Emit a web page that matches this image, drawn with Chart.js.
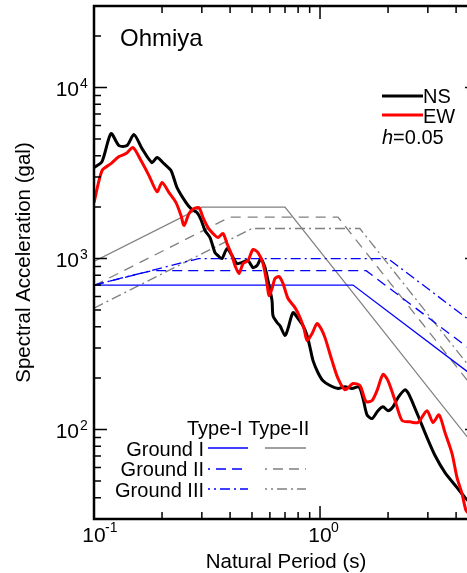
<!DOCTYPE html>
<html>
<head>
<meta charset="utf-8">
<script src="https://cdn.jsdelivr.net/npm/chart.js@4/dist/chart.umd.min.js"></script>
<style>
  body { margin: 0; background: #fff; }
  #wrap { width: 467px; height: 573px; overflow: hidden; position: relative; }
  canvas { display: block; }
</style>
</head>
<body>
<div id="wrap"><canvas id="chart" width="490" height="573"></canvas></div>
<script>
const nsPeriod = [0.100, 0.1085, 0.1189, 0.1290, 0.1400, 0.1503, 0.1631, 0.1805, 0.1900, 0.2040,
  0.2191, 0.2330, 0.2554, 0.2687, 0.2855, 0.2974, 0.3099, 0.3261, 0.3430, 0.3537,
  0.3684, 0.3877, 0.4079, 0.4292, 0.4518, 0.4801, 0.5052, 0.5262, 0.5481, 0.5709,
  0.5886, 0.6133, 0.6194, 0.6452, 0.6653, 0.7000, 0.7218, 0.7595, 0.7993, 0.8411,
  0.8761, 0.9033, 0.9312, 0.9799, 1.031, 1.107, 1.201, 1.290, 1.385, 1.488,
  1.550, 1.614, 1.699, 1.805, 1.900, 2.000, 2.104, 2.214, 2.377, 2.451,
  2.579, 2.770, 2.975, 3.227, 3.573, 4.038, 4.381, 4.610];
const nsAccel = [3405, 3690, 5383, 4580, 4580, 5310, 4398, 3641, 3896, 3593,
  3273, 2602, 2125, 1961, 1858, 1691, 1459, 1327, 1084, 1041,
  1000, 1144, 1041, 935, 948, 973, 886, 910, 1000, 886,
  743, 568, 464, 423, 405, 355, 390, 483, 446, 405,
  355, 302, 253, 215, 193, 181, 174, 178, 174, 178,
  152, 122, 116, 129, 136, 129, 136, 154, 171, 164,
  142, 113, 89.8, 70.5, 56.0, 45.8, 40.0, 37.4];

const ewPeriod = [0.100, 0.1085, 0.1189, 0.1290, 0.1385, 0.1488, 0.1614, 0.1751, 0.1900, 0.2000,
  0.2147, 0.2306, 0.2427, 0.2502, 0.2633, 0.2770, 0.2914, 0.3036, 0.3194, 0.3430,
  0.3537, 0.3721, 0.3877, 0.4079, 0.4207, 0.4382, 0.4564, 0.4801, 0.5052, 0.5316,
  0.5595, 0.5827, 0.5946, 0.6133, 0.6322, 0.6585, 0.6861, 0.7218, 0.7750, 0.8157,
  0.8495, 0.8761, 0.9217, 0.9699, 1.010, 1.052, 1.130, 1.201, 1.290, 1.400,
  1.503, 1.598, 1.699, 1.787, 1.900, 2.000, 2.147, 2.306, 2.502, 2.714,
  2.975, 3.162, 3.362, 3.573, 3.838, 4.038, 4.250, 4.426, 4.610];
const ewAccel = [2125, 3273, 3593, 3948, 4111, 4457, 3743, 3057, 2464, 2782,
  2432, 2125, 1784, 1560, 1834, 1961, 1986, 1738, 1518, 1364,
  1327, 1400, 1224, 1041, 910, 817, 935, 973, 1130, 1084,
  935, 714, 608, 668, 764, 785, 714, 584, 517, 452,
  390, 332, 364, 417, 390, 345, 253, 199, 171, 186,
  181, 146, 148, 169, 210, 193, 148, 113, 111, 110,
  129, 110, 122, 96, 72.4, 52.4, 42.2, 33.6, 31.8];

// ---- design spectra, break points (Type-I / Type-II, Ground I-III) ----
const t1g1Period = [0.1, 1.4, 5];        const t1g1Accel = [700, 700, 196];
const t1g2Period = [0.1, 0.18, 1.6, 5];  const t1g2Accel = [700, 850, 850, 272];
const t1g3Period = [0.1, 0.29, 2.0, 5];  const t1g3Accel = [700, 1000, 1000, 400];
const t2g1Period = [0.1, 0.3, 0.7, 5];   const t2g1Accel = [962, 2000, 2000, 75.5];
const t2g2Period = [0.1, 0.4, 1.2, 5];   const t2g2Accel = [695, 1750, 1750, 162];
const t2g3Period = [0.1, 0.5, 1.5, 5];   const t2g3Accel = [513, 1500, 1500, 202];

// ---- axes ----
const xMajorTicks = [0.1, 1];
const xMajorExp = ['-1', '0'];
const xMinorTicks = [0.2, 0.3, 0.4, 0.5, 0.6, 0.7, 0.8, 0.9, 2, 3, 4, 5];
const yMajorTicks = [100, 1000, 10000];
const yMajorExp = ['2', '3', '4'];
const yMinorTicks = [30, 40, 50, 60, 70, 80, 90, 200, 300, 400, 500, 600, 700, 800, 900,
  2000, 3000, 4000, 5000, 6000, 7000, 8000, 9000, 20000, 30000];

const FONT = "'Liberation Sans', Arial, sans-serif";
const BLUE = '#0000ff';
const GRAY = '#808080';

function pts(xs, ys) {
  return xs.map((x, i) => ({ x: x, y: ys[i] }));
}

function serie(label, xs, ys, color, width, dash, order, tension) {
  return {
    label: label,
    data: pts(xs, ys),
    borderColor: color,
    borderWidth: width,
    borderDash: dash,
    pointRadius: 0,
    tension: tension || 0,
    fill: false,
    order: order
  };
}

// frame, inward ticks, labels and legend
const framePlugin = {
  id: 'frame',
  afterDraw(chart) {
    const ctx = chart.ctx;
    const xs = chart.scales.x, ys = chart.scales.y;
    const a = chart.chartArea;
    ctx.save();
    ctx.strokeStyle = '#000';
    ctx.fillStyle = '#000';

    // ticks
    ctx.lineWidth = 1.5;
    const tick = (v, len, horiz) => {
      ctx.beginPath();
      if (horiz) {
        const px = xs.getPixelForValue(v);
        ctx.moveTo(px, a.bottom); ctx.lineTo(px, a.bottom - len);
        ctx.moveTo(px, a.top); ctx.lineTo(px, a.top + len);
      } else {
        const py = ys.getPixelForValue(v);
        ctx.moveTo(a.left, py); ctx.lineTo(a.left + len, py);
        ctx.moveTo(a.right, py); ctx.lineTo(a.right - len, py);
      }
      ctx.stroke();
    };
    xMajorTicks.forEach(v => tick(v, 13, true));
    xMinorTicks.forEach(v => tick(v, 7, true));
    yMajorTicks.forEach(v => tick(v, 13, false));
    yMinorTicks.forEach(v => tick(v, 7, false));

    // box
    ctx.lineWidth = 2.5;
    ctx.strokeRect(a.left, a.top, a.right - a.left, a.bottom - a.top);

    // tick labels
    ctx.textBaseline = 'alphabetic';
    xMajorTicks.forEach((v, i) => {
      const px = xs.getPixelForValue(v);
      ctx.font = '21px ' + FONT;
      ctx.textAlign = 'center';
      ctx.fillText('10', px, 542);
      ctx.font = '14px ' + FONT;
      ctx.textAlign = 'left';
      ctx.fillText(xMajorExp[i], px + 11, 532);
    });
    yMajorTicks.forEach((v, i) => {
      const py = ys.getPixelForValue(v);
      ctx.font = '21px ' + FONT;
      ctx.textAlign = 'right';
      ctx.fillText('10', 79, py + 8);
      ctx.font = '14px ' + FONT;
      ctx.textAlign = 'left';
      ctx.fillText(yMajorExp[i], 80, py);
    });

    // axis titles
    ctx.font = '20.5px ' + FONT;
    ctx.textAlign = 'center';
    ctx.fillText('Natural Period (s)', (a.left + a.right) / 2, 568);
    ctx.save();
    ctx.translate(30, (a.top + a.bottom) / 2);
    ctx.rotate(-Math.PI / 2);
    ctx.fillText('Spectral Acceleration (gal)', 0, 0);
    ctx.restore();

    // station name
    ctx.font = '24px ' + FONT;
    ctx.textAlign = 'left';
    ctx.fillText('Ohmiya', 120, 46);

    // NS / EW legend
    ctx.font = '20px ' + FONT;
    ctx.lineWidth = 3;
    ctx.strokeStyle = '#000';
    ctx.beginPath(); ctx.moveTo(382, 96); ctx.lineTo(423, 96); ctx.stroke();
    ctx.fillText('NS', 423, 103);
    ctx.strokeStyle = '#ff0000';
    ctx.beginPath(); ctx.moveTo(382, 115); ctx.lineTo(423, 115); ctx.stroke();
    ctx.fillText('EW', 423, 123);
    ctx.font = 'italic 20px ' + FONT;
    ctx.fillText('h', 382, 144);
    const hw = ctx.measureText('h').width;
    ctx.font = '20px ' + FONT;
    ctx.fillText('=0.05', 382 + hw, 144);

    // design spectra legend
    ctx.fillText('Type-I Type-II', 187, 435);
    ctx.textAlign = 'right';
    const rows = [['Ground I', 448, 456, []], ['Ground II', 469, 476, [10, 6]], ['Ground III', 489, 497, [10, 4, 2, 4]]];
    ctx.lineWidth = 1.3;
    rows.forEach(r => {
      ctx.fillText(r[0], 204, r[2]);
      ctx.setLineDash(r[3]);
      ctx.lineDashOffset = r[3].length ? 8 : 0;
      ctx.strokeStyle = BLUE;
      ctx.beginPath(); ctx.moveTo(208, r[1]); ctx.lineTo(248, r[1]); ctx.stroke();
      ctx.strokeStyle = GRAY;
      ctx.beginPath(); ctx.moveTo(265, r[1]); ctx.lineTo(306, r[1]); ctx.stroke();
    });
    ctx.setLineDash([]);
    ctx.restore();
  }
};

new Chart(document.getElementById('chart').getContext('2d'), {
  type: 'line',
  data: {
    datasets: [
      serie('EW', ewPeriod, ewAccel, '#ff0000', 3, [], 0, 0.25),
      serie('NS', nsPeriod, nsAccel, '#000000', 3, [], 1, 0.25),
      serie('Type-I Ground I', t1g1Period, t1g1Accel, BLUE, 1.3, [], 2),
      serie('Type-I Ground II', t1g2Period, t1g2Accel, BLUE, 1.3, [10, 6], 2),
      serie('Type-I Ground III', t1g3Period, t1g3Accel, BLUE, 1.3, [10, 4, 2, 4], 2),
      serie('Type-II Ground I', t2g1Period, t2g1Accel, GRAY, 1.3, [], 2),
      serie('Type-II Ground II', t2g2Period, t2g2Accel, GRAY, 1.3, [10, 7], 2),
      serie('Type-II Ground III', t2g3Period, t2g3Accel, GRAY, 1.3, [10, 4, 2, 4], 2)
    ]
  },
  options: {
    responsive: false,
    devicePixelRatio: 1,
    animation: false,
    layout: { padding: { left: 94, top: 6, right: 12, bottom: 54 } },
    plugins: { legend: { display: false }, tooltip: { enabled: false } },
    scales: {
      x: { type: 'logarithmic', min: 0.1, max: 5, display: false },
      y: { type: 'logarithmic', min: 30, max: 30000, display: false }
    }
  },
  plugins: [framePlugin]
});
</script>
</body>
</html>
